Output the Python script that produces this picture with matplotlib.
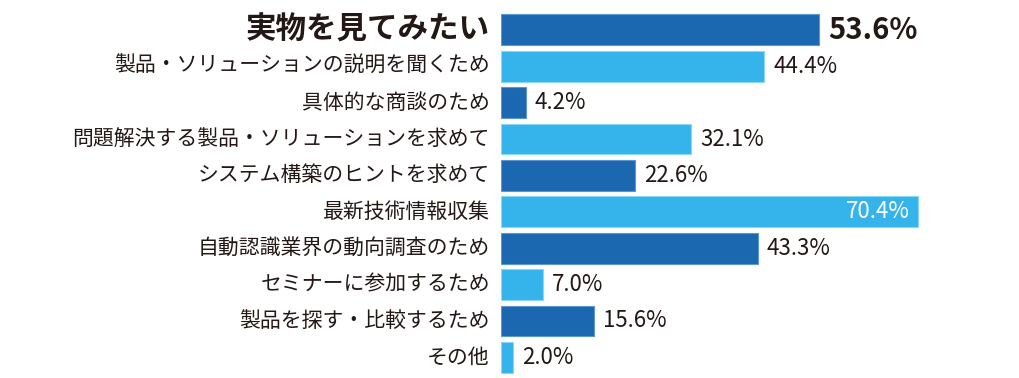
import matplotlib
matplotlib.use('Agg')
import matplotlib.pyplot as plt

plt.rcParams['font.family'] = ['Noto Sans CJK JP', 'DejaVu Sans']

labels = ['実物を見てみたい', '製品・ソリューションの説明を聞くため', '具体的な商談のため',
          '問題解決する製品・ソリューションを求めて', 'システム構築のヒントを求めて',
          '最新技術情報収集', '自動認識業界の動向調査のため', 'セミナーに参加するため',
          '製品を探す・比較するため', 'その他']
values = [53.6, 44.4, 4.2, 32.1, 22.6, 70.4, 43.3, 7.0, 15.6, 2.0]

dark = '#1b67b0'
light = '#35b4ec'
txt = '#231815'

fig = plt.figure(figsize=(10.2, 3.78), dpi=100)
ax = fig.add_axes([501/1020, 0, 1 - 501/1020, 1])

ypos = list(range(len(values)))
colors = [dark if i % 2 == 0 else light for i in ypos]
edges = ['#5b98d2' if i % 2 == 0 else '#8ad6f6' for i in ypos]
ax.barh(ypos, values, height=0.85, color=colors, edgecolor=edges, linewidth=0.8)

ax.set_xlim(0, (1020 - 501) / 5.93)
ax.set_ylim(9.566, -0.819)
ax.axis('off')

for i, (lab, v) in enumerate(zip(labels, values)):
    if i == 0:
        ax.annotate(lab, (0, i), xytext=(-8, 0), textcoords='offset points',
                    ha='right', va='center', fontsize=22, fontweight='bold', color=txt)
        ax.annotate(f'{v:.1f}%', (v, i), xytext=(6.5, 0), textcoords='offset points',
                    ha='left', va='center', fontsize=21, fontweight='bold', color=txt)
    else:
        ax.annotate(lab, (0, i), xytext=(-8, 0), textcoords='offset points',
                    ha='right', va='center', fontsize=15, color=txt)
        if v > 60:
            ax.annotate(f'{v:.1f}%', (v, i), xytext=(-6, 0), textcoords='offset points',
                        ha='right', va='center', fontsize=16, color='white')
        else:
            ax.annotate(f'{v:.1f}%', (v, i), xytext=(6.5, 0), textcoords='offset points',
                        ha='left', va='center', fontsize=16, color=txt)

fig.savefig('out.png', dpi=100)
